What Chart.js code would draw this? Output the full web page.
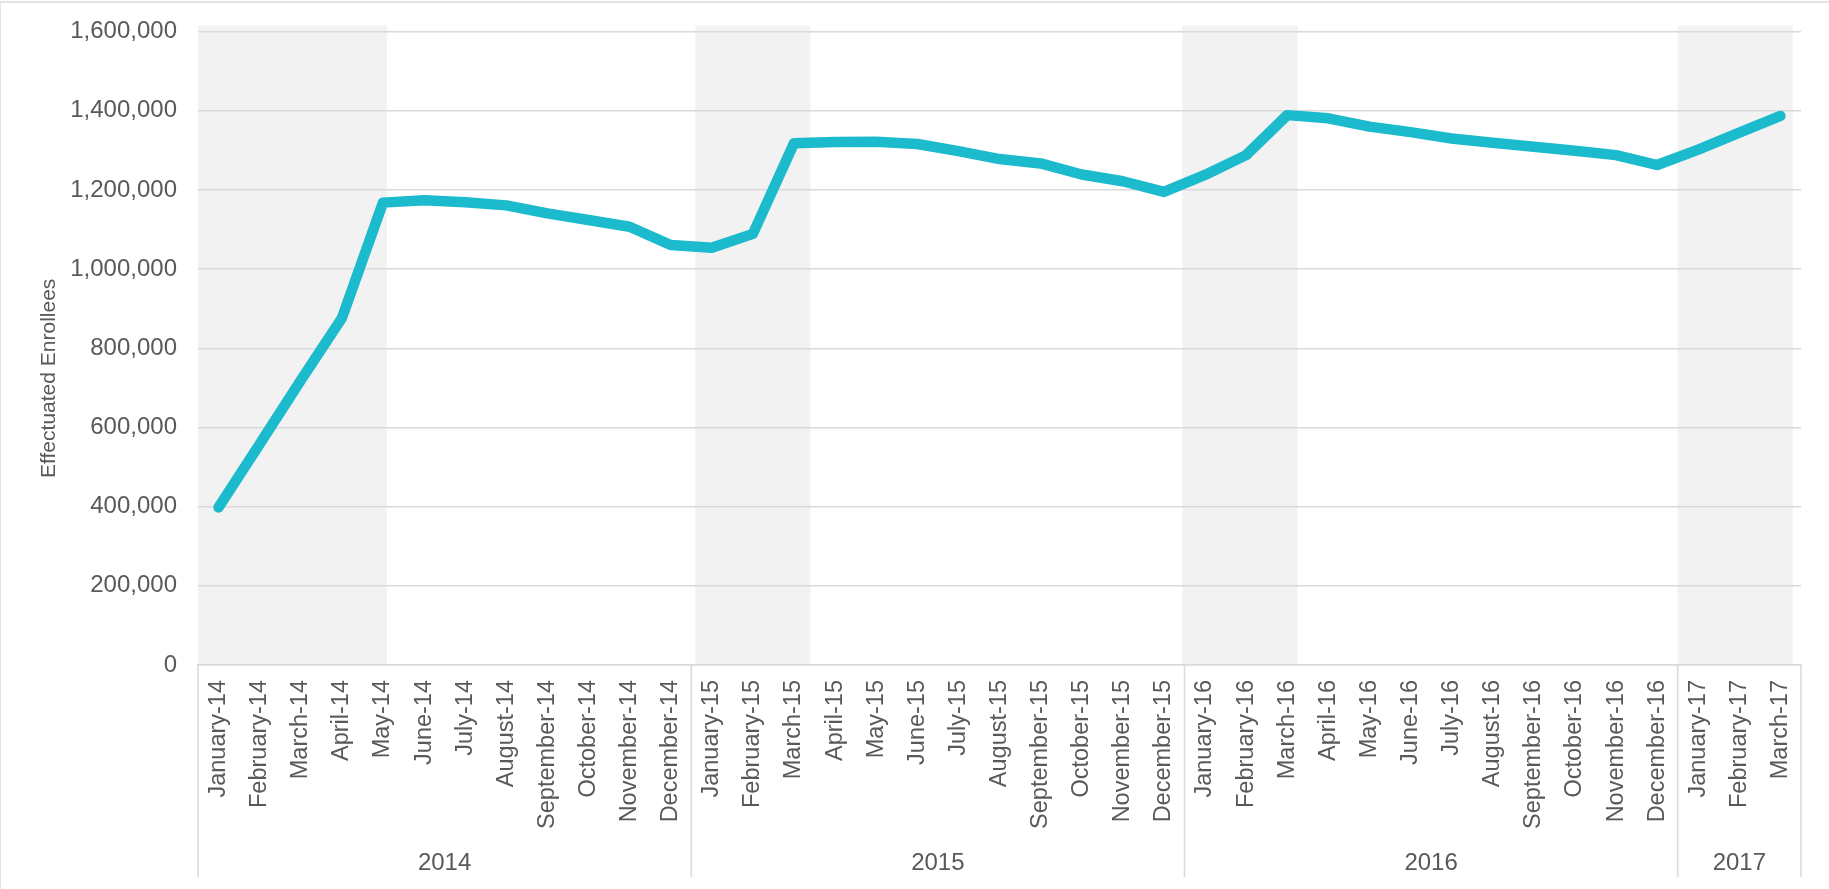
<!DOCTYPE html>
<html lang="en">
<head>
<meta charset="UTF-8">
<title>Effectuated Enrollees</title>
<style>
  html, body { margin: 0; padding: 0; background: #fff; }
  .frame { position: relative; width: 1829px; height: 889px; overflow: hidden; }
  /* thin grey frame at the top and left, like the exported chart */
  .frame::before { content: ''; position: absolute; left: 0; top: 1px; right: 0; height: 2px; background: #e3e3e3; }
  .frame::after { content: ''; position: absolute; left: 0; top: 1px; bottom: 0; width: 1px; background: #e3e3e3; }
  canvas { display: block; }
</style>
</head>
<body>
<div class="frame"><canvas id="enrolChart" width="1829" height="889"></canvas></div>

<script src="https://cdn.jsdelivr.net/npm/chart.js@4.4.1/dist/chart.umd.min.js"></script>
<script>
  const months = [
    'January-14', 'February-14', 'March-14', 'April-14', 'May-14', 'June-14', 'July-14', 'August-14',
    'September-14', 'October-14', 'November-14', 'December-14',
    'January-15', 'February-15', 'March-15', 'April-15', 'May-15', 'June-15', 'July-15', 'August-15',
    'September-15', 'October-15', 'November-15', 'December-15',
    'January-16', 'February-16', 'March-16', 'April-16', 'May-16', 'June-16', 'July-16', 'August-16',
    'September-16', 'October-16', 'November-16', 'December-16',
    'January-17', 'February-17', 'March-17'
  ];

  const enrollees = [
    398000, 558000, 719000, 876000, 1168000, 1174000, 1169000, 1161000, 1141000, 1124000, 1107000, 1061000,
    1054000, 1089000, 1318000, 1321000, 1322000, 1316000, 1298000, 1278000, 1267000, 1239000, 1222000, 1195000,
    1238000, 1288000, 1389000, 1381000, 1360000, 1346000, 1330000, 1319000, 1309000, 1299000, 1288000, 1263000,
    1302000, 1345000, 1387000
  ];

  // shaded open-enrollment periods, in month slots counted from January-14
  const shadeFrom = [0, 12.1, 23.95, 36];
  const shadeTo = [4.6, 14.9, 26.75, 38.8];

  const yTitle = 'Effectuated Enrollees';

  const textGrey = '#595959';
  const gridGrey = '#d9d9d9';
  const fontFamily = '"Liberation Sans", Arial, sans-serif';

  // pixel for a position measured in month slots (0 = left edge of first month)
  function slotPixel(x, u) {
    const w = x.getPixelForValue(1) - x.getPixelForValue(0);
    return x.getPixelForValue(0) - w / 2 + u * w;
  }

  const shadePlugin = {
    id: 'shade',
    beforeDraw(chart) {
      const { ctx, chartArea, scales: { x } } = chart;
      ctx.save();
      ctx.fillStyle = '#f2f2f2';
      shadeFrom.forEach((f, i) => {
        const x0 = slotPixel(x, f);
        const x1 = slotPixel(x, shadeTo[i]);
        ctx.fillRect(x0, chartArea.top - 6, x1 - x0, chartArea.bottom - chartArea.top + 6);
      });
      ctx.restore();
    }
  };

  // second row of the category axis (years + separators) and the y title
  const yearPlugin = {
    id: 'years',
    afterDraw(chart) {
      const { ctx, chartArea, scales: { x } } = chart;
      const groups = [];
      months.forEach((m, i) => {
        const yr = '20' + m.slice(-2);
        const g = groups[groups.length - 1];
        if (g && g.year === yr) g.end = i;
        else groups.push({ year: yr, start: i, end: i });
      });
      const w = x.getPixelForValue(1) - x.getPixelForValue(0);
      const top = chartArea.bottom;
      const bottom = chart.height - 12;
      ctx.save();
      ctx.strokeStyle = gridGrey;
      ctx.lineWidth = 1.5;
      ctx.fillStyle = textGrey;
      ctx.font = '24px ' + fontFamily;
      ctx.textAlign = 'center';
      ctx.textBaseline = 'middle';
      groups.forEach((g, i) => {
        const left = x.getPixelForValue(g.start) - w / 2;
        const right = x.getPixelForValue(g.end) + w / 2;
        ctx.beginPath();
        ctx.moveTo(left, top);
        ctx.lineTo(left, bottom);
        if (i === groups.length - 1) {
          ctx.moveTo(right, top);
          ctx.lineTo(right, bottom);
        }
        ctx.stroke();
        ctx.fillText(g.year, (left + right) / 2, bottom - 14);
      });

      // axis title sits a little below the middle of the plot, as in the original
      ctx.font = '21px ' + fontFamily;
      ctx.translate(49, (chartArea.top + chartArea.bottom) / 2 + 30);
      ctx.rotate(-Math.PI / 2);
      ctx.fillText(yTitle, 0, 0);
      ctx.restore();
    }
  };

  new Chart(document.getElementById('enrolChart'), {
    type: 'line',
    data: {
      labels: months,
      datasets: [{
        label: yTitle,
        data: enrollees,
        borderColor: '#1bbacd',
        borderWidth: 10.5,
        borderCapStyle: 'round',
        borderJoinStyle: 'round',
        pointRadius: 0,
        tension: 0,
        fill: false
      }]
    },
    options: {
      responsive: false,
      animation: false,
      devicePixelRatio: 1,
      layout: { padding: { top: 31.6, right: 28, bottom: 0, left: 0 } },
      plugins: {
        legend: { display: false },
        tooltip: { enabled: false }
      },
      scales: {
        x: {
          offset: true,
          grid: { display: false, drawTicks: false },
          border: { display: true, color: gridGrey, width: 1.5 },
          ticks: {
            color: textGrey,
            font: { family: fontFamily, size: 23.5 },
            minRotation: 90,
            maxRotation: 90,
            autoSkip: false,
            padding: 15
          },
          afterFit: (s) => { s.height = 224; }
        },
        y: {
          min: 0,
          max: 1600000,
          grid: { color: gridGrey, lineWidth: 1.5, drawTicks: false },
          border: { display: false },
          ticks: {
            stepSize: 200000,
            color: textGrey,
            font: { family: fontFamily, size: 24 },
            padding: 21,
            callback: (v) => v.toLocaleString('en-US')
          },
          afterFit: (s) => { s.width = 198; s.paddingTop = 0; }
        }
      }
    },
    plugins: [shadePlugin, yearPlugin]
  });
</script>
</body>
</html>
